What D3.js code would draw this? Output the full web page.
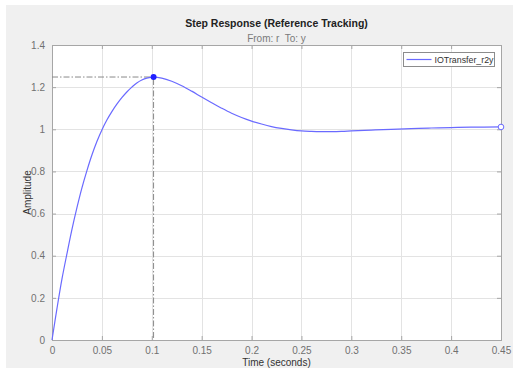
<!DOCTYPE html>
<html>
<head>
<meta charset="utf-8">
<script src="https://cdn.jsdelivr.net/npm/d3@7/dist/d3.min.js"></script>
<style>
    body { margin: 0; background: #fff; }
    svg { display: block; font-family: 'Liberation Sans', Arial, sans-serif; }
</style>
</head>
<body>
<div id="container"></div>
<script>
// data
const timeValues = [0, 0.005, 0.01, 0.015, 0.02, 0.025, 0.03, 0.035, 0.04, 0.045, 0.05, 0.055,
    0.06, 0.065, 0.07, 0.075, 0.08, 0.085, 0.09, 0.095, 0.1018,
    0.11, 0.12, 0.13, 0.14, 0.15, 0.16, 0.17, 0.18, 0.19, 0.2, 0.21, 0.22, 0.23, 0.24, 0.25,
    0.26, 0.27, 0.28, 0.29, 0.3, 0.32, 0.34, 0.36, 0.38, 0.4, 0.42, 0.45]
const amplitudeValues = [0, 0.15, 0.29, 0.41, 0.525, 0.628, 0.722, 0.804, 0.878, 0.942, 0.997, 1.044,
    1.084, 1.119, 1.150, 1.177, 1.200, 1.220, 1.234, 1.243, 1.248,
    1.243, 1.228, 1.207, 1.181, 1.153, 1.126, 1.100, 1.076, 1.056, 1.039, 1.025, 1.013, 1.004, 0.997, 0.992,
    0.99, 0.989, 0.989, 0.99, 0.992, 0.996, 1.0, 1.003, 1.006, 1.008, 1.01, 1.011]
const peak = { t: 0.1018, y: 1.248 }
const xTicks = [0, 0.05, 0.1, 0.15, 0.2, 0.25, 0.3, 0.35, 0.4, 0.45]
const yTicks = [0, 0.2, 0.4, 0.6, 0.8, 1, 1.2, 1.4]
const seriesName = 'IOTransfer_r2y'

const width = 513
const height = 368
const plot = { left: 52, right: 501, top: 45, bottom: 340 }

const svg = d3.select('#container')
    .append('svg')
    .attr('width', width)
    .attr('height', height)

svg.append('rect')
    .attr('x', 6).attr('y', 5)
    .attr('width', width - 6).attr('height', height - 5)
    .attr('fill', '#f0f0f0')

const x = d3.scaleLinear().domain([0, 0.45]).range([plot.left, plot.right])
const y = d3.scaleLinear().domain([0, 1.4]).range([plot.bottom, plot.top])

svg.append('rect')
    .attr('x', plot.left).attr('y', plot.top)
    .attr('width', plot.right - plot.left).attr('height', plot.bottom - plot.top)
    .attr('fill', '#fff')

// grid
const grid = svg.append('g').attr('stroke', '#e3e3e3').attr('stroke-width', 1)
grid.selectAll('.gx').data(xTicks.slice(1, -1)).join('line')
    .attr('x1', (d) => Math.round(x(d)) + 0.5).attr('x2', (d) => Math.round(x(d)) + 0.5)
    .attr('y1', plot.top).attr('y2', plot.bottom)
grid.selectAll('.gy').data(yTicks.slice(1, -1)).join('line')
    .attr('y1', (d) => Math.round(y(d)) + 0.5).attr('y2', (d) => Math.round(y(d)) + 0.5)
    .attr('x1', plot.left).attr('x2', plot.right)

// axes
const fmt = (d) => d3.format('~g')(d)
const axisColor = '#a6a6a6'
const labelColor = '#707070'

function styleAxis(g) {
    g.select('.domain').remove()
    g.selectAll('.tick line').attr('stroke', axisColor)
    g.selectAll('.tick text').attr('fill', labelColor).attr('font-size', 10)
}

svg.append('g')
    .attr('transform', `translate(0,${plot.bottom})`)
    .call(d3.axisBottom(x).tickValues(xTicks).tickFormat(fmt).tickSizeInner(-4).tickSizeOuter(0).tickPadding(7))
    .call(styleAxis)
svg.append('g')
    .attr('transform', `translate(0,${plot.top})`)
    .call(d3.axisTop(x).tickValues(xTicks).tickFormat('').tickSizeInner(-4).tickSizeOuter(0))
    .call(styleAxis)
svg.append('g')
    .attr('transform', `translate(${plot.left},0)`)
    .call(d3.axisLeft(y).tickValues(yTicks).tickFormat(fmt).tickSizeInner(-4).tickSizeOuter(0).tickPadding(7))
    .call(styleAxis)
svg.append('g')
    .attr('transform', `translate(${plot.right},0)`)
    .call(d3.axisRight(y).tickValues(yTicks).tickFormat('').tickSizeInner(-4).tickSizeOuter(0))
    .call(styleAxis)

svg.append('rect')
    .attr('x', plot.left + 0.5).attr('y', plot.top + 0.5)
    .attr('width', plot.right - plot.left).attr('height', plot.bottom - plot.top)
    .attr('fill', 'none')
    .attr('stroke', axisColor)

// peak guides
svg.append('path')
    .attr('d', `M${plot.left},${y(peak.y)}H${x(peak.t)}V${plot.bottom}`)
    .attr('fill', 'none')
    .attr('stroke', '#8a8a8a')
    .attr('stroke-width', 1)
    .attr('stroke-dasharray', '6,2,1.5,2')

// response
const data = timeValues.map((t, i) => ({ t, v: amplitudeValues[i] }))
const line = d3.line().x((d) => x(d.t)).y((d) => y(d.v)).curve(d3.curveCatmullRom.alpha(0.5))
svg.append('path')
    .datum(data)
    .attr('d', line)
    .attr('fill', 'none')
    .attr('stroke', '#6a6aff')
    .attr('stroke-width', 1.2)

svg.append('circle')
    .attr('cx', x(peak.t)).attr('cy', y(peak.y)).attr('r', 3)
    .attr('fill', '#2020ff')
svg.append('circle')
    .attr('cx', x(timeValues[timeValues.length - 1]))
    .attr('cy', y(amplitudeValues[amplitudeValues.length - 1]))
    .attr('r', 2.8)
    .attr('fill', '#fff')
    .attr('stroke', '#6a6aff')
    .attr('stroke-width', 1)

// legend
const legend = svg.append('g').attr('transform', 'translate(403.5,52.5)')
legend.append('rect')
    .attr('width', 91).attr('height', 14)
    .attr('fill', '#fff').attr('stroke', '#8c8c8c')
legend.append('line')
    .attr('x1', 3).attr('x2', 28).attr('y1', 7).attr('y2', 7)
    .attr('stroke', '#6a6aff').attr('stroke-width', 1.2)
legend.append('text')
    .attr('x', 31).attr('y', 10.5)
    .attr('font-size', 9).attr('fill', '#333')
    .attr('textLength', 59).attr('lengthAdjust', 'spacingAndGlyphs')
    .text(seriesName)

// titles
const cx = (plot.left + plot.right) / 2
svg.append('text')
    .attr('x', cx).attr('y', 27)
    .attr('text-anchor', 'middle')
    .attr('font-size', 10.5).attr('font-weight', 'bold').attr('fill', '#222')
    .text('Step Response (Reference Tracking)')
svg.append('text')
    .attr('x', cx).attr('y', 42)
    .attr('text-anchor', 'middle')
    .attr('font-size', 10).attr('fill', '#7a7a7a')
    .text('From: r\u00a0 To: y')
svg.append('text')
    .attr('x', cx).attr('y', 366)
    .attr('text-anchor', 'middle')
    .attr('font-size', 10).attr('fill', '#333')
    .text('Time (seconds)')
svg.append('text')
    .attr('transform', `translate(31,${(plot.top + plot.bottom) / 2}) rotate(-90)`)
    .attr('text-anchor', 'middle')
    .attr('font-size', 10).attr('fill', '#333')
    .text('Amplitude')
</script>
</body>
</html>
